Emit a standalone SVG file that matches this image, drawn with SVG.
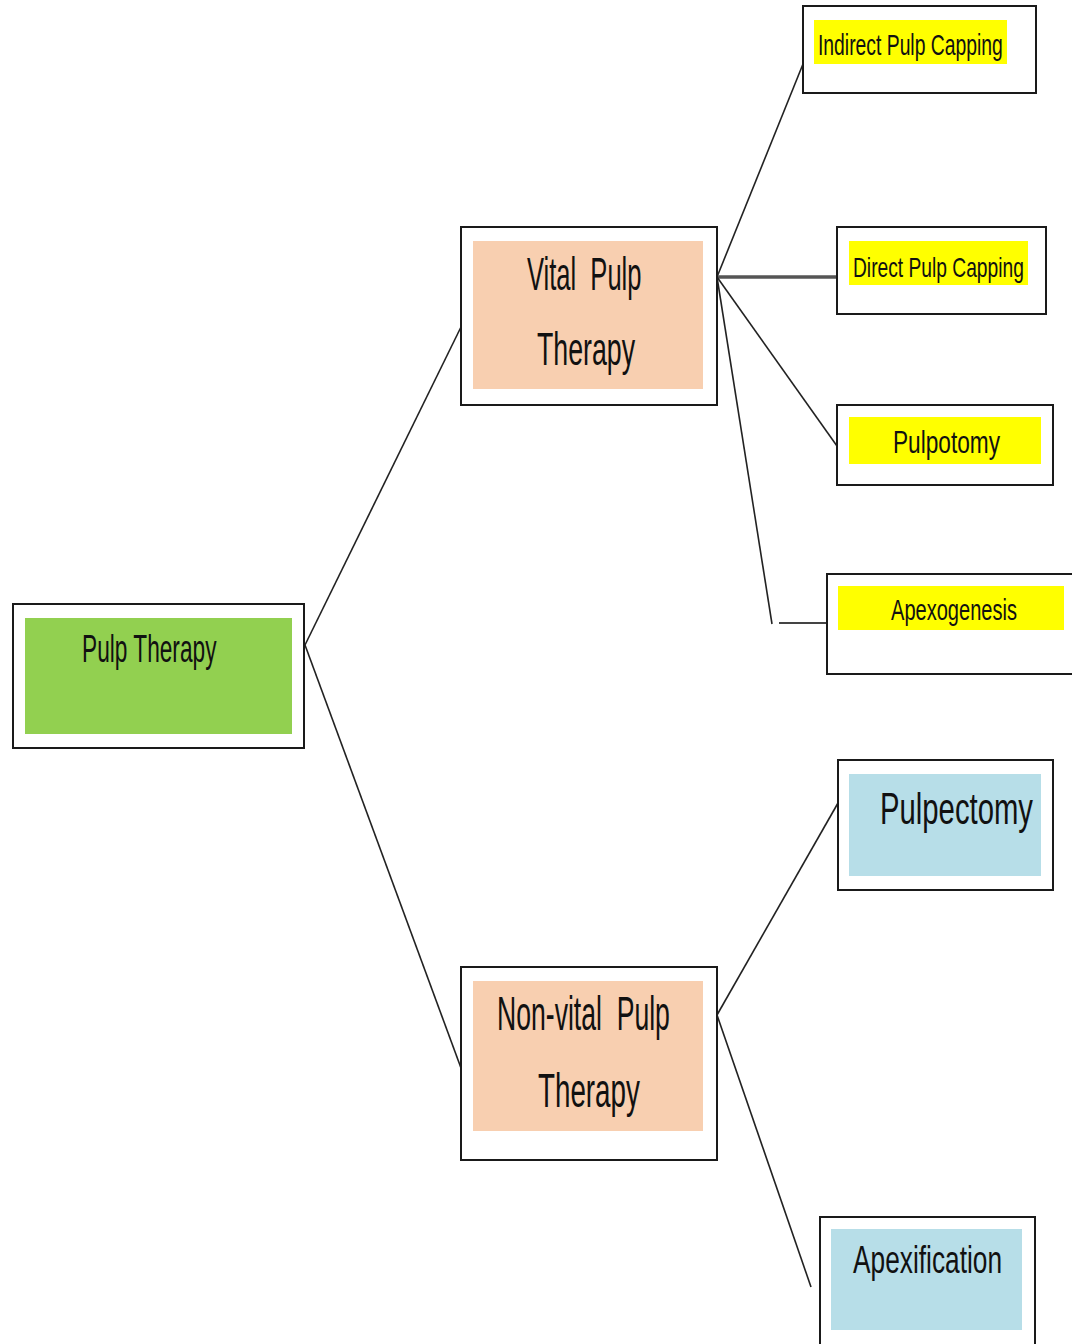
<svg xmlns="http://www.w3.org/2000/svg" width="1072" height="1344" viewBox="0 0 1072 1344">
<style>
.box{fill:#fff;stroke:#1a1a1a;stroke-width:2}
.green{fill:#92D050}
.peach{fill:#F8CFB0}
.yellow{fill:#FFFF00}
.blue{fill:#B7DEE8}
.t{font-family:"Liberation Sans",Arial,sans-serif;fill:#111;}
.ln{stroke:#222;stroke-width:1.6;fill:none}
</style>
<rect width="1072" height="1344" fill="#fff"/>
<g id="connectors">
<line class="ln" x1="305" y1="645" x2="461" y2="327"/>
<line class="ln" x1="305" y1="645" x2="461" y2="1068"/>
<line class="ln" x1="717" y1="277" x2="803" y2="64"/>
<line x1="717" y1="277" x2="837" y2="277" stroke="#555" stroke-width="3.5"/>
<line class="ln" x1="717" y1="277" x2="837" y2="446"/>
<line class="ln" x1="717" y1="277" x2="772" y2="624"/>
<line x1="779" y1="623" x2="827" y2="623" stroke="#444" stroke-width="2"/>
<line class="ln" x1="717" y1="1015" x2="838" y2="803"/>
<line class="ln" x1="717" y1="1015" x2="811" y2="1287"/>
</g>
<g id="pulp-therapy">
<rect class="box" x="13" y="604" width="291" height="144"/>
<rect class="green" x="25" y="618" width="267" height="116"/>
<text class="t" transform="translate(82 662) scale(0.597 1)" font-size="38">Pulp Therapy</text>
</g>
<g id="vital">
<rect class="box" x="461" y="227" width="256" height="178"/>
<rect class="peach" x="473" y="241" width="230" height="148"/>
<text class="t" transform="translate(527 290) scale(0.555 1)" font-size="46" xml:space="preserve">Vital  Pulp</text>
<text class="t" transform="translate(537 365) scale(0.581 1)" font-size="46">Therapy</text>
</g>
<g id="nonvital">
<rect class="box" x="461" y="967" width="256" height="193"/>
<rect class="peach" x="473" y="981" width="230" height="150"/>
<text class="t" transform="translate(497 1030) scale(0.554 1)" font-size="48" xml:space="preserve">Non-vital  Pulp</text>
<text class="t" transform="translate(538 1107) scale(0.579 1)" font-size="48">Therapy</text>
</g>
<g id="indirect">
<rect class="box" x="803" y="6" width="233" height="87"/>
<rect class="yellow" x="814" y="20" width="193" height="44"/>
<text class="t" transform="translate(818 55) scale(0.667 1)" font-size="29">Indirect Pulp Capping</text>
</g>
<g id="direct">
<rect class="box" x="837" y="227" width="209" height="87"/>
<rect class="yellow" x="849" y="241" width="179" height="44"/>
<text class="t" transform="translate(853 277) scale(0.712 1)" font-size="27">Direct Pulp Capping</text>
</g>
<g id="pulpotomy">
<rect class="box" x="837" y="405" width="216" height="80"/>
<rect class="yellow" x="849" y="417" width="192" height="47"/>
<text class="t" transform="translate(893 453) scale(0.731 1)" font-size="31">Pulpotomy</text>
</g>
<g id="apexogenesis">
<rect class="box" x="827" y="574" width="260" height="100"/>
<rect class="yellow" x="838" y="586" width="226" height="44"/>
<text class="t" transform="translate(891 620) scale(0.692 1)" font-size="29">Apexogenesis</text>
</g>
<g id="pulpectomy">
<rect class="box" x="838" y="760" width="215" height="130"/>
<rect class="blue" x="849" y="774" width="192" height="102"/>
<text class="t" transform="translate(880 824) scale(0.651 1)" font-size="45">Pulpectomy</text>
</g>
<g id="apexification">
<rect class="box" x="820" y="1217" width="215" height="140"/>
<rect class="blue" x="831" y="1229" width="191" height="101"/>
<text class="t" transform="translate(853 1273) scale(0.674 1)" font-size="39">Apexification</text>
</g>
</svg>
